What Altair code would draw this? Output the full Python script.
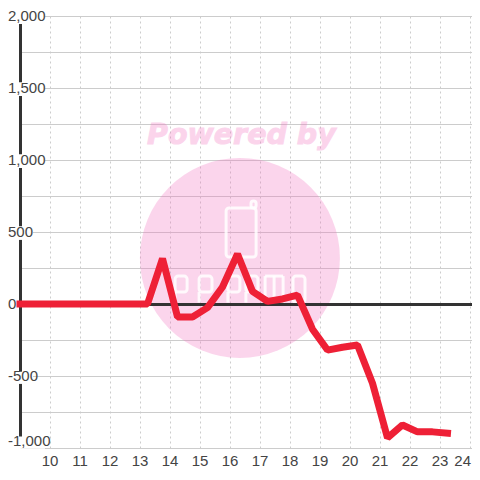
import altair as alt
import pandas as pd

# Series
x_values = [9, 13.25, 13.75, 14.25, 14.75, 15.25, 15.75, 16.25, 16.75, 17.25, 17.75, 18.25,
            18.75, 19.25, 19.75, 20.25, 20.75, 21.25, 21.75, 22.25, 22.75, 23.25]
y_values = [0, 0, 315, -90, -90, -25, 118, 347, 88, 18, 35, 62,
            -175, -320, -300, -285, -550, -930, -840, -888, -888, -897]

x_ticks = list(range(10, 25))
x_labels_main = list(range(10, 24))
y_grid = [-1000, -750, -500, -250, 0, 250, 500, 750, 1000, 1250, 1500, 1750, 2000]

y_label_values = [2000, 1500, 1000, 500, 0]
y_label_text = ["2,000", "1,500", "1,000", "500", "0"]

X_DOMAIN = [9, 24.0667]
Y_DOMAIN = [-1000, 2000]
xs = alt.Scale(domain=X_DOMAIN, nice=False, zero=False)
ys = alt.Scale(domain=Y_DOMAIN, nice=False, zero=False)

GRID = "#cccccc"
x_axis = alt.Axis(values=x_ticks, grid=True, gridDash=[2, 3], gridColor=GRID, gridWidth=1,
                  domain=False, ticks=False, labels=False, title=None)
y_axis = alt.Axis(values=y_grid, grid=True, gridColor=GRID, gridWidth=1,
                  domain=False, ticks=False, labels=False, title=None)

X = lambda f="x:Q": alt.X(f, scale=xs, axis=x_axis)
Y = lambda f="y:Q": alt.Y(f, scale=ys, axis=y_axis)

# Watermark
PINK = "#f273c0"
WM = 0.3
wm_circle = alt.Chart(pd.DataFrame({"x": [16.33], "y": [320]})).mark_point(
    shape="circle", filled=True, color=PINK, opacity=WM, size=40000).encode(x=X(), y=Y())
wm_text = alt.Chart(pd.DataFrame({"x": [16.38], "y": [1175], "t": ["Powered by"]})).mark_text(
    font="DejaVu Sans", fontWeight="bold", fontStyle="italic", fontSize=28.5, color=PINK, opacity=WM,
    align="center", baseline="middle", stroke=PINK, strokeWidth=1).encode(x=X(), y=Y(), text="t:N")

WHITE = dict(stroke="white", strokeWidth=3, filled=False, opacity=0.85)

# outlined logo shapes: phone and antenna, then the letter bowls and the last letter
box_x = [15.87, 16.7, 14.17, 14.97, 15.93, 16.53, 18.1]
box_x2 = [16.87, 16.87, 14.57, 15.4, 16.33, 16.93, 18.5]
box_y = [667, 715, 194, 194, 194, 194, 194]
box_y2 = [326, 667, 83, 83, 83, 83, 10]
boxes = alt.Chart(pd.DataFrame({"x": box_x, "x2": box_x2, "y": box_y, "y2": box_y2})).mark_rect(
    cornerRadius=3, **WHITE).encode(x=X(), x2="x2:Q", y=Y(), y2="y2:Q")

stem_x = [14.17, 14.97, 15.93, 16.53, 17.17, 17.47, 17.77]
stem_top = [83, 83, 83, 83, 194, 194, 194]
stem_bot = [10, 10, 10, 10, 10, 10, 10]
stems = alt.Chart(pd.DataFrame({"x": stem_x, "y": stem_top, "y2": stem_bot})).mark_rule(
    stroke="white", strokeWidth=3, opacity=0.85).encode(x=X(), y=Y(), y2="y2:Q")
m_top = alt.Chart(pd.DataFrame({"x": [17.17], "x2": [17.77], "y": [194]})).mark_rule(
    stroke="white", strokeWidth=3, opacity=0.85).encode(x=X(), x2="x2:Q", y=Y())

# Axis lines
vline = alt.Chart(pd.DataFrame({"x": [9.0167], "y": [-1000], "y2": [2000]})).mark_rule(
    color="#333333", strokeWidth=3).encode(x=X(), y=Y(), y2="y2:Q")
hline = alt.Chart(pd.DataFrame({"x": [9], "x2": [24.0667], "y": [-3.4]})).mark_rule(
    color="#333333", strokeWidth=3).encode(x=X(), x2="x2:Q", y=Y())

# White label plates
def plate(v_top, v_bot, x_right):
    return alt.Chart(pd.DataFrame({"y": [v_top], "y2": [v_bot]})).mark_rect(color="white", clip=False).encode(
        y=Y(), y2="y2:Q", x=alt.value(-12), x2=alt.value(x_right))

plates = [plate(2045, 1945, 25), plate(1540, 1445, 25), plate(1040, 945, 25),
          plate(540, 445, 13), plate(-470, -555, 13), plate(-920, -1005, 25)]

txt_kw = dict(font="Liberation Sans", fontSize=15, color="#444444", baseline="middle", clip=False)
y_labels = alt.Chart(pd.DataFrame({"y": y_label_values, "t": y_label_text})).mark_text(align="left", **txt_kw).encode(
    x=alt.value(-12), y=Y(), text="t:N")
neg_mid = alt.Chart(pd.DataFrame({"y": [-500], "t": ["-500"]})).mark_text(align="left", **txt_kw).encode(
    x=alt.value(-12), y=Y(), text="t:N")
neg_bot = alt.Chart(pd.DataFrame({"y": [-1000], "t": ["-1,000"]})).mark_text(align="left", dy=-7, **txt_kw).encode(
    x=alt.value(-12), y=Y(), text="t:N")

x_labels = alt.Chart(pd.DataFrame({"x": x_labels_main, "y": [-1000] * len(x_labels_main)})).mark_text(
    align="center", dy=13, **txt_kw).encode(x=X(), y=Y(), text=alt.Text("x:Q", format="d"))
x_label_last = alt.Chart(pd.DataFrame({"x": [24], "y": [-1000]})).mark_text(
    align="right", dy=13, dx=1, **txt_kw).encode(x=X(), y=Y(), text=alt.Text("x:Q", format="d"))

series = alt.Chart(pd.DataFrame({"x": x_values, "y": y_values})).mark_line(
    color="#ee2036", strokeWidth=7, strokeCap="square", strokeJoin="bevel",
    clip=False, interpolate="linear").encode(x=X(), y=Y())

chart = alt.layer(
    wm_circle, wm_text, boxes, stems, m_top,
    vline, hline, *plates, y_labels, neg_mid, neg_bot, x_labels, x_label_last, series
).properties(
    width=452, height=432,
    autosize=alt.AutoSizeParams(type="none"),
    padding={"left": 12, "top": 8, "right": 0, "bottom": 24},
).configure_view(stroke=None)

chart.save("out.html", embed_options={"renderer": "svg", "actions": False})
